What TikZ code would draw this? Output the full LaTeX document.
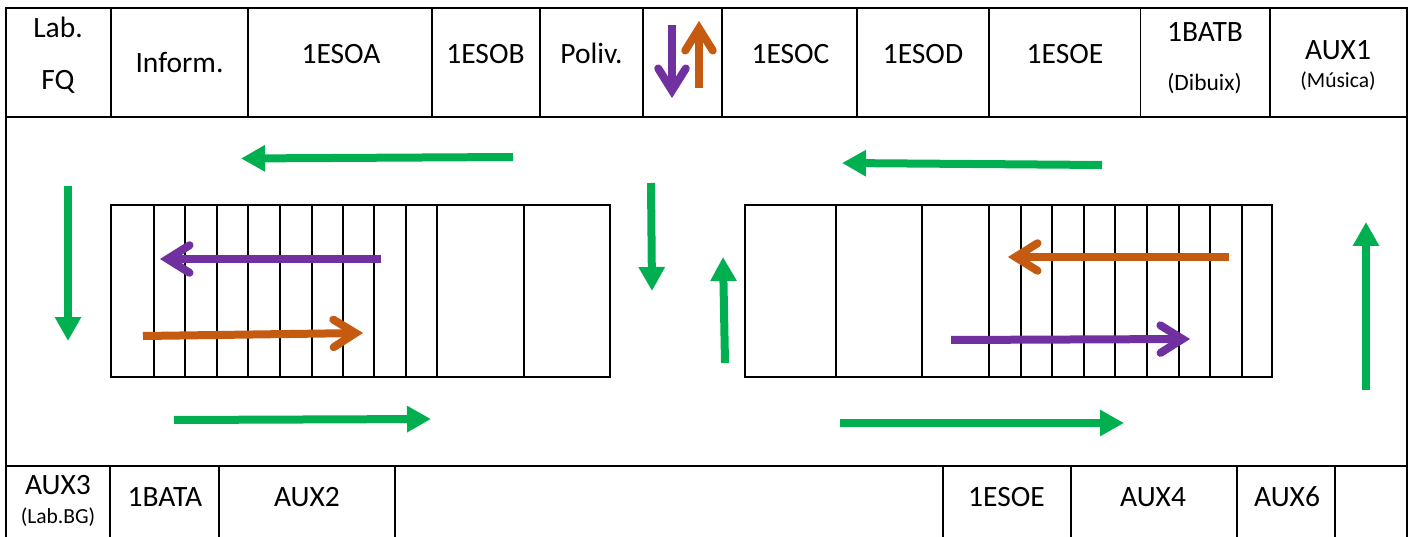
\documentclass[tikz,border=0pt]{standalone}
\usepackage{fontspec}
\setmainfont{Carlito}
\usetikzlibrary{arrows.meta,calc}
\definecolor{wayg}{HTML}{00B050}
\definecolor{wayp}{HTML}{7030A0}
\definecolor{wayo}{HTML}{C55A11}
\tikzset{
  frameline/.style={draw=black,line width=2.6pt},
  wall/.style={draw=black,line width=2.2pt},
  thinwall/.style={draw=black,line width=1.2pt},
  stair/.style={draw=black,line width=1.8pt},
  roomlabel/.style={anchor=base,inner sep=0pt,font=\fontsize{29.5}{31}\selectfont},
  smalllabel/.style={anchor=base,inner sep=0pt,font=\fontsize{21.5}{23}\selectfont},
  flow/.style={wayg,line width=8pt,-{Triangle[length=24pt,width=25pt]}},
  walkshaft/.style={line width=8pt},
  walkhead/.style={line width=8pt,line cap=round,line join=miter,miter limit=10},
}
\newcommand{\openarrow}[3]{%
  \draw[walkshaft,#1] (#2) -- ($(#3)!7pt!(#2)$);
  \draw[walkhead,#1] ($(#3)!6.5pt!(#2)$ ) ++(0,0) coordinate (apex)
     ($(apex)!26pt!32:(#2)$) -- (apex) -- ($(apex)!26pt!-32:(#2)$);
}
\begin{document}
\begin{tikzpicture}[x=1pt,y=-1pt]
\useasboundingbox (0,0) rectangle (1410,537);
% frame and rows
\draw[frameline] (6,545) -- (6,8) -- (989.5,8);
\draw[thinwall] (989.5,8) -- (1140.5,8);
\draw[frameline] (1140.5,8) -- (1407,8) -- (1407,545);
\draw[frameline] (6,117) -- (1407,117);
\draw[wall] (6,466) -- (1407,466);
% top dividers
\foreach \x in {111,248,432,540,643,722,857,1270} \draw[wall] (\x,8) -- (\x,117);
\foreach \x in {989,1140.5} \draw[thinwall] (\x,8) -- (\x,117);
% bottom dividers
\foreach \x in {110,219,395,943,1071,1237,1335} \draw[wall] (\x,466) -- (\x,545);
% stairs
\draw[stair] (111,205) rectangle (610,377);
\foreach \x in {154,185,217,248,280,312,343,374,406,437,524} \draw[stair] (\x,205) -- (\x,377);
\draw[stair] (745,205) rectangle (1272,377);
\foreach \x in {836,922,989,1021,1052,1084,1115,1147,1179,1210,1242} \draw[stair] (\x,205) -- (\x,377);
% labels
\node[roomlabel] (labA) at (58,37.5) {Lab.};
\node[roomlabel] (labB) at (58,90) {FQ};
\node[roomlabel] (inform) at (179.5,73) {Inform.};
\node[roomlabel] (esoa) at (341,64) {1ESOA};
\node[roomlabel] (esob) at (485.5,64) {1ESOB};
\node[roomlabel] (poliv) at (591.5,64) {Poliv.};
\node[roomlabel] (esoc) at (790.5,64) {1ESOC};
\node[roomlabel] (esod) at (923,64) {1ESOD};
\node[roomlabel] (esoe) at (1065,64) {1ESOE};
\node[roomlabel] (batb) at (1205,42) {1BATB};
\node[smalllabel,font=\fontsize{23.5}{25}\selectfont] (dibuix) at (1204.5,91) {(Dibuix)};
\node[roomlabel] (auxa) at (1338,60) {AUX1};
\node[smalllabel] (musica) at (1338,88) {(Música)};
\node[roomlabel] (auxc) at (58,494.5) {AUX3};
\node[smalllabel] (labbg) at (58,523) {(Lab.BG)};
\node[roomlabel] (bata) at (165,506) {1BATA};
\node[roomlabel] (auxb) at (307,506) {AUX2};
\node[roomlabel] (esoeb) at (1006.5,506) {1ESOE};
\node[roomlabel] (auxd) at (1153,506) {AUX4};
\node[roomlabel] (auxf) at (1287,506) {AUX6};
% arrow ends
\coordinate (g1s) at (513,157); \coordinate (g1e) at (241,158.5);
\coordinate (g2s) at (1102,165); \coordinate (g2e) at (842,163);
\coordinate (g3s) at (68,186); \coordinate (g3e) at (68,341);
\coordinate (g4s) at (651,183); \coordinate (g4e) at (652,291);
\coordinate (g5s) at (725,363); \coordinate (g5e) at (723,257);
\coordinate (g6s) at (1366,390); \coordinate (g6e) at (1366,222);
\coordinate (g7s) at (174,420); \coordinate (g7e) at (431,419);
\coordinate (g8s) at (840,423); \coordinate (g8e) at (1124,423);
\coordinate (p1s) at (381,259); \coordinate (p1e) at (161,259);
\coordinate (o1s) at (143,336); \coordinate (o1e) at (362,333);
\coordinate (o2s) at (1229,257); \coordinate (o2e) at (1009,257);
\coordinate (p2s) at (951,340); \coordinate (p2e) at (1189,339);
\coordinate (p3s) at (672,25); \coordinate (p3e) at (672,97);
\coordinate (o3s) at (699,88); \coordinate (o3e) at (699,22);
% arrows
\foreach \n in {1,...,8} \draw[flow] (g\n s) -- (g\n e);
\openarrow{wayp}{p1s}{p1e}
\openarrow{wayo}{o1s}{o1e}
\openarrow{wayo}{o2s}{o2e}
\openarrow{wayp}{p2s}{p2e}
\openarrow{wayp}{p3s}{p3e}
\openarrow{wayo}{o3s}{o3e}
\end{tikzpicture}
\end{document}
